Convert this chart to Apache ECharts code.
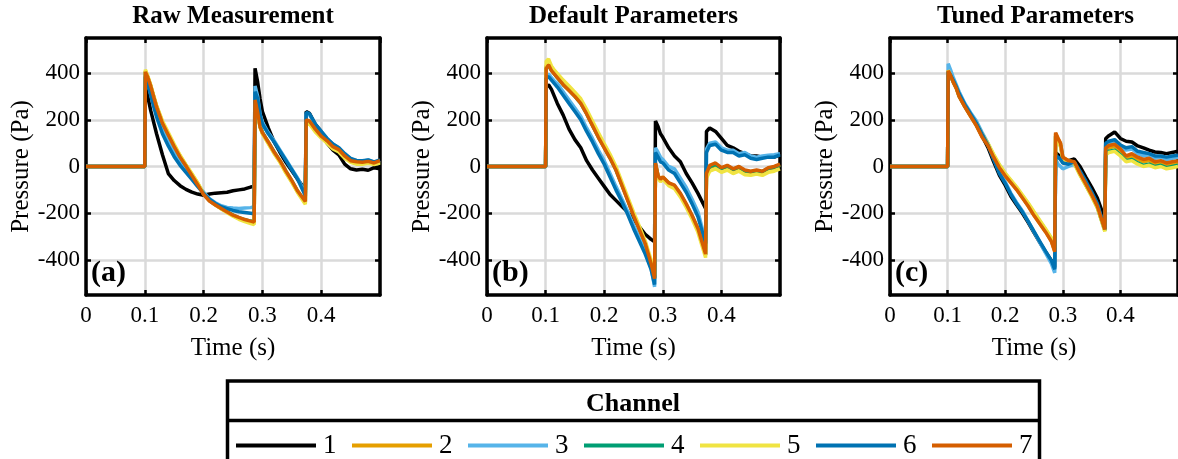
<!DOCTYPE html>
<html><head><meta charset="utf-8">
<script src="https://cdn.jsdelivr.net/npm/echarts@6/dist/echarts.min.js"></script>
<style>html,body{margin:0;padding:0;background:#fff}#c{width:1178px;height:459px}</style>
</head><body><div id="c"></div>
<script>
// ---- data ----
const time = [0,0.1,0.101,0.105,0.11,0.115,0.12,0.13,0.14,0.15,
  0.16,0.17,0.18,0.19,0.2,0.21,0.22,0.23,0.24,0.25,
  0.26,0.27,0.28,0.286,0.2875,0.292,0.296,0.3,0.31,0.32,
  0.33,0.34,0.35,0.36,0.373,0.3745,0.38,0.39,0.4,0.41,
  0.42,0.43,0.44,0.45,0.46,0.47,0.48,0.49,0.5];
const channels = ['1','2','3','4','5','6','7'];
const channelColors = ['#000000','#E69F00','#56B4E9','#009E73','#F0E442','#0072B2','#D55E00'];
const panelTitles = ['Raw Measurement','Default Parameters','Tuned Parameters'];
const panelLabels = ['(a)','(b)','(c)'];
const xTickValues = [0,0.1,0.2,0.3,0.4];
const yTickValues = [-400,-200,0,200,400];

// Panel (a) Raw Measurement
const rawCh1 = [0,0,340,300,240,190,140,50,-30,-60,
 -82,-98,-110,-118,-123,-118,-114,-112,-110,-104,
 -100,-96,-88,-85,420,360,290,235,165,105,
 60,18,-18,-55,-100,235,228,180,150,100,
 70,50,10,-10,-15,-12,-16,-5,-10];
const rawCh2 = [0,0,410,385,345,300,258,190,138,88,
 45,5,-33,-72,-118,-146,-163,-180,-195,-210,
 -222,-230,-238,-242,275,228,170,143,100,58,
 20,-25,-65,-110,-155,195,190,155,128,105,
 80,68,40,22,15,14,18,12,20];
const rawCh3 = [0,0,395,370,320,270,225,160,105,60,
 20,-12,-45,-78,-110,-138,-155,-168,-175,-178,
 -180,-178,-176,-172,345,300,225,190,145,110,
 70,30,-10,-50,-115,225,222,178,150,120,
 95,80,55,32,25,22,28,18,25];
const rawCh4 = [0,0,405,382,344,300,256,188,138,90,
 42,4,-36,-76,-118,-146,-164,-180,-194,-208,
 -220,-228,-234,-232,280,232,172,146,104,62,
 24,-20,-62,-106,-150,190,188,152,128,104,
 80,66,40,22,14,14,18,12,20];
const rawCh5 = [0,0,415,388,350,305,262,195,145,95,
 48,8,-30,-70,-115,-145,-165,-182,-198,-213,
 -226,-236,-244,-248,270,225,168,140,98,55,
 18,-28,-68,-112,-162,180,182,148,122,100,
 75,62,35,18,10,10,14,8,15];
const rawCh6 = [0,0,385,355,305,258,212,140,88,42,
 5,-25,-55,-86,-115,-140,-158,-172,-180,-188,
 -194,-197,-200,-202,320,290,222,182,140,105,
 66,26,-14,-55,-125,232,226,182,150,120,
 96,80,55,35,26,25,28,20,28];
const rawCh7 = [0,0,405,382,345,300,255,185,135,85,
 40,2,-38,-78,-120,-148,-165,-180,-195,-208,
 -218,-227,-234,-238,285,230,170,145,105,62,
 25,-20,-60,-105,-150,200,195,160,130,110,
 85,72,45,25,20,18,22,15,25];

// Panel (b) Default Parameters
const defCh1 = [0,0,340,350,330,300,270,220,160,115,
 80,25,-15,-50,-85,-120,-145,-170,-195,-225,
 -258,-290,-312,-322,195,170,140,125,80,45,
 20,-30,-70,-115,-180,150,165,150,120,90,
 80,65,55,45,45,40,45,40,50];
const defCh2 = [0,0,430,440,420,400,385,355,330,305,
 275,230,180,130,85,40,-10,-75,-140,-205,
 -265,-325,-410,-475,10,-40,-55,-45,-70,-85,
 -120,-165,-215,-270,-380,-35,-5,5,-10,0,
 -15,-5,-20,-25,-20,-25,-10,-5,5];
const defCh3 = [0,0,390,395,380,365,355,320,285,250,
 215,165,120,70,25,-30,-85,-138,-192,-250,
 -308,-365,-435,-515,80,60,40,30,0,-10,
 -50,-90,-140,-195,-320,75,100,105,80,70,
 70,55,60,45,40,45,48,50,55];
const defCh4 = [0,0,425,432,412,396,380,350,326,300,
 270,226,176,126,82,36,-14,-78,-142,-206,
 -268,-328,-415,-478,12,-42,-58,-48,-72,-84,
 -118,-163,-212,-268,-378,-35,0,8,-8,2,
 -12,-2,-18,-22,-18,-22,-8,-3,6];
const defCh5 = [0,0,450,460,430,412,398,370,345,318,
 290,245,195,145,98,52,0,-65,-130,-195,
 -255,-318,-400,-465,0,-50,-65,-55,-82,-95,
 -130,-175,-225,-282,-390,-50,-20,-10,-25,-15,
 -30,-20,-35,-38,-32,-38,-25,-20,-10];
const defCh6 = [0,0,378,385,370,355,340,305,270,235,
 200,150,105,55,10,-45,-100,-150,-205,-265,
 -320,-375,-440,-505,60,40,20,15,-15,-30,
 -70,-110,-160,-215,-330,60,90,95,70,60,
 60,45,50,35,30,35,40,40,50];
const defCh7 = [0,0,420,435,410,395,380,350,325,300,
 270,225,175,125,80,35,-15,-80,-145,-210,
 -270,-330,-415,-480,15,-40,-55,-45,-70,-80,
 -115,-160,-210,-265,-375,-30,5,15,-5,5,
 -10,0,-15,-20,-15,-20,-5,0,10];

// Panel (c) Tuned Parameters
const tunCh1 = [0,0,400,390,365,340,310,262,222,180,
 130,82,20,-38,-80,-128,-165,-200,-240,-283,
 -325,-365,-402,-432,60,50,40,30,25,32,
 0,-45,-88,-135,-225,120,132,148,120,108,
 105,88,80,70,62,60,55,60,65];
const tunCh2 = [0,0,408,390,360,335,300,255,215,175,
 128,92,42,-2,-38,-68,-98,-133,-168,-208,
 -243,-278,-318,-362,140,118,98,40,25,18,
 -32,-78,-122,-172,-272,70,80,85,65,35,
 45,30,20,25,10,15,5,10,15];
const tunCh3 = [0,0,440,415,380,350,320,270,230,195,
 145,100,35,-25,-65,-115,-155,-190,-235,-280,
 -325,-370,-415,-455,30,10,0,-10,0,10,
 -25,-70,-115,-165,-268,95,100,110,85,70,
 75,55,45,50,35,40,30,35,40];
const tunCh4 = [0,0,405,388,362,338,302,258,218,180,
 132,95,48,5,-32,-62,-92,-126,-160,-198,
 -234,-270,-308,-350,130,110,90,35,22,15,
 -35,-80,-125,-175,-275,55,65,70,50,25,
 30,15,5,10,0,5,-5,0,5];
const tunCh5 = [0,0,412,392,364,340,305,262,222,185,
 138,100,52,8,-28,-58,-88,-122,-156,-194,
 -230,-266,-305,-348,125,105,85,30,18,12,
 -38,-82,-128,-178,-278,50,60,65,45,20,
 25,10,0,5,-5,0,-10,-5,0];
const tunCh6 = [0,0,405,392,368,342,312,265,225,185,
 138,92,30,-30,-72,-120,-160,-195,-235,-278,
 -320,-362,-402,-440,45,40,30,15,10,20,
 -20,-62,-108,-158,-268,100,108,115,92,80,
 85,65,60,55,45,45,40,45,48];
const tunCh7 = [0,0,410,390,360,335,300,255,215,175,
 125,90,40,-5,-40,-70,-100,-135,-170,-210,
 -245,-280,-320,-365,145,120,100,40,25,20,
 -30,-75,-120,-170,-270,80,90,95,75,45,
 55,40,30,35,20,25,15,20,25];

const panels = [
  [rawCh1,rawCh2,rawCh3,rawCh4,rawCh5,rawCh6,rawCh7],
  [defCh1,defCh2,defCh3,defCh4,defCh5,defCh6,defCh7],
  [tunCh1,tunCh2,tunCh3,tunCh4,tunCh5,tunCh6,tunCh7]
];

// ---- layout ----
const FONT = '"Liberation Serif","Times New Roman",serif';
const gridLeft = [86, 487, 890];
const gridWidth = [294, 293, 291];
const gridTop = 38, gridHeight = 257;

const grids = [], xAxes = [], yAxes = [], series = [], graphics = [];
const frameLine = {show:true, onZero:false, lineStyle:{color:'#000', width:3.5}};
const tickIn = {show:true, inside:true, length:5, lineStyle:{color:'#000', width:2.5}};
const gridLineStyle = {show:true, lineStyle:{color:'#dadada', width:2.5}};

for (let p = 0; p < 3; p++) {
  grids.push({left: gridLeft[p], top: gridTop, width: gridWidth[p], height: gridHeight});
  xAxes.push({
    type:'value', gridIndex:p, position:'bottom', min:0, max:0.5, interval:0.1,
    axisLine: frameLine, axisTick: tickIn,
    axisLabel:{showMaxLabel:false, color:'#000', fontFamily:FONT, fontSize:23, margin:9},
    splitLine: gridLineStyle,
    name:'Time (s)', nameLocation:'middle', nameGap:41,
    nameTextStyle:{color:'#000', fontFamily:FONT, fontSize:25}
  });
  xAxes.push({
    type:'value', gridIndex:p, position:'top', min:0, max:0.5, interval:0.1,
    axisLine: frameLine, axisTick: tickIn, axisLabel:{show:false}, splitLine:{show:false}
  });
  yAxes.push({
    type:'value', gridIndex:p, position:'left', min:-550, max:550,
    axisLine: frameLine,
    axisTick: Object.assign({customValues: yTickValues}, tickIn),
    axisLabel:{customValues: yTickValues, color:'#000', fontFamily:FONT, fontSize:23, margin:6},
    splitLine: gridLineStyle,
    name:'Pressure (Pa)', nameLocation:'middle', nameGap:51,
    nameTextStyle:{color:'#000', fontFamily:FONT, fontSize:25}
  });
  yAxes.push({
    type:'value', gridIndex:p, position:'right', min:-550, max:550,
    axisLine: frameLine,
    axisTick: Object.assign({customValues: yTickValues}, tickIn),
    axisLabel:{show:false}, splitLine:{show:false}
  });
  panels[p].forEach((vals, c) => {
    series.push({
      type:'line', name: channels[c], xAxisIndex: 2*p, yAxisIndex: 2*p,
      data: time.map((t, i) => [t, vals[i]]),
      showSymbol:false, symbol:'none', color: channelColors[c],
      lineStyle:{width:3.5, color: channelColors[c]}, z: 2 + c, animation:false
    });
  });
  graphics.push({
    type:'text', x: gridLeft[p] + gridWidth[p]/2, y: 17,
    style:{text: panelTitles[p], font:'bold 25px ' + FONT, fill:'#000', textAlign:'center', textVerticalAlign:'middle'}
  });
  graphics.push({
    type:'text', x: gridLeft[p] + 5, y: 273, z: 100,
    style:{text: panelLabels[p], font:'bold 30px ' + FONT, fill:'#000', textAlign:'left', textVerticalAlign:'middle'}
  });
}

// legend box
graphics.push({type:'rect', shape:{x:227.5, y:381, width:812, height:110}, style:{fill:'none', stroke:'#000', lineWidth:3.5}});
graphics.push({type:'line', shape:{x1:227.5, y1:420.5, x2:1039.5, y2:420.5}, style:{stroke:'#000', lineWidth:3.5}});
graphics.push({type:'text', x:633, y:404, style:{text:'Channel', font:'bold 26px ' + FONT, fill:'#000', textAlign:'center', textVerticalAlign:'middle'}});

const chart = echarts.init(document.getElementById('c'), null, {renderer:'canvas'});
chart.setOption({
  animation:false,
  backgroundColor:'#fff',
  grid: grids, xAxis: xAxes, yAxis: yAxes, series: series,
  graphic: graphics,
  legend:{
    data: channels, left: 231, top: 427, icon:'rect', itemWidth:80, itemHeight:4, itemGap:15.5,
    textStyle:{color:'#000', fontFamily:FONT, fontSize:27, padding:[0,0,0,2]}
  }
});
</script></body></html>
